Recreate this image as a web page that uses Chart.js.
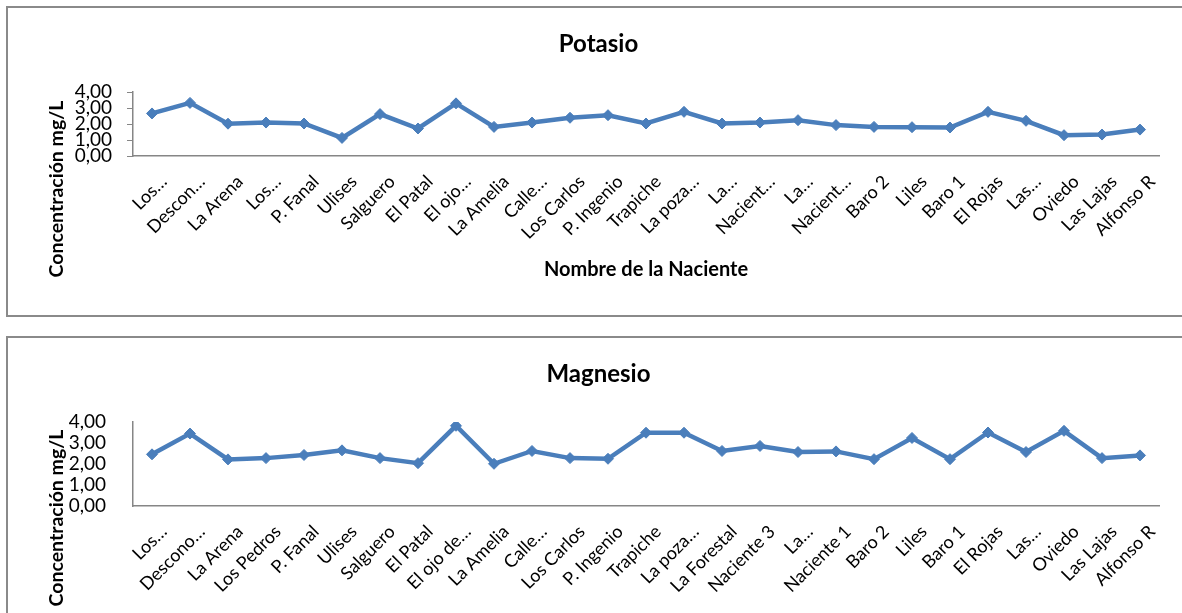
<!DOCTYPE html>
<html lang="es">
<head>
<meta charset="utf-8">
<title>Potasio y Magnesio por naciente</title>
<script src="https://cdn.jsdelivr.net/npm/chart.js@4.4.1/dist/chart.umd.min.js"></script>
<style>
  html, body { margin: 0; padding: 0; background: #ffffff; }
  body { width: 1182px; height: 613px; overflow: hidden; position: relative; }
  .panel {
    position: absolute; left: 6px; width: 1300px; height: 311px;
    border: 2px solid #8a8a8a; box-sizing: border-box; background: #fff;
  }
  #panelK { top: 6px; }
  #panelMg { top: 336px; }
  canvas { position: absolute; left: 0; top: 0; }
</style>
</head>
<body>
<div class="panel" id="panelK"><canvas id="chartK" width="1174" height="307"></canvas></div>
<div class="panel" id="panelMg"><canvas id="chartMg" width="1174" height="307"></canvas></div>
<script>
// Nacientes (labels as shown on each axis)
const categoriasK = ['Los…', 'Descon…', 'La Arena', 'Los…', 'P. Fanal', 'Ulises', 'Salguero', 'El Patal',
  'El ojo…', 'La Amelia', 'Calle…', 'Los Carlos', 'P. Ingenio', 'Trapiche', 'La poza…', 'La…',
  'Nacient…', 'La…', 'Nacient…', 'Baro 2', 'Liles', 'Baro 1', 'El Rojas', 'Las…', 'Oviedo',
  'Las Lajas', 'Alfonso R'];
const categoriasMg = ['Los…', 'Descono…', 'La Arena', 'Los Pedros', 'P. Fanal', 'Ulises', 'Salguero', 'El Patal',
  'El ojo de…', 'La Amelia', 'Calle…', 'Los Carlos', 'P. Ingenio', 'Trapiche', 'La poza…', 'La Forestal',
  'Naciente 3', 'La…', 'Naciente 1', 'Baro 2', 'Liles', 'Baro 1', 'El Rojas', 'Las…', 'Oviedo',
  'Las Lajas', 'Alfonso R'];

// Concentraciones (mg/L)
const potasio = [2.66, 3.32, 2.02, 2.09, 2.03, 1.13, 2.62, 1.72, 3.29, 1.82, 2.09, 2.39, 2.55, 2.03,
  2.76, 2.03, 2.09, 2.24, 1.93, 1.82, 1.80, 1.78, 2.76, 2.20, 1.30, 1.34, 1.65];
const magnesio = [2.46, 3.45, 2.22, 2.28, 2.43, 2.65, 2.28, 2.04, 3.82, 2.01, 2.62, 2.28, 2.25, 3.49,
  3.49, 2.62, 2.86, 2.57, 2.60, 2.23, 3.24, 2.23, 3.50, 2.57, 3.58, 2.28, 2.41];

// Eje Y
const yTicks = [0, 1, 2, 3, 4];
const yTitle = 'Concentración mg/L';
const xTitle = 'Nombre de la Naciente';

const FONT = 'Lato, "Open Sans", "Noto Sans", sans-serif';
const BLUE = '#4A7EBB';
const AXIS = '#868686';

// Vertical axis title, centred on the plot block rather than on the chart area
const yTitlePlugin = {
  id: 'yTitle',
  afterDraw(chart, args, opts) {
    const ctx = chart.ctx;
    ctx.save();
    ctx.translate(opts.x, opts.y);
    ctx.rotate(-Math.PI / 2);
    ctx.font = 'bold 19.5px ' + FONT;
    ctx.fillStyle = '#000';
    ctx.textAlign = 'center';
    ctx.textBaseline = 'middle';
    ctx.fillText(opts.text, 0, 0);
    ctx.restore();
  }
};

function fmt(v) { return v.toFixed(2).replace('.', ','); }

function makeChart(id, title, labels, values, cfg) {
  return new Chart(document.getElementById(id), {
    type: 'line',
    data: {
      labels: labels,
      datasets: [{
        data: values,
        borderColor: BLUE,
        backgroundColor: BLUE,
        borderWidth: 4.5,
        tension: 0,
        pointStyle: 'rectRot',
        pointRadius: 5.5,
        pointBorderWidth: 1,
        pointBackgroundColor: BLUE,
        pointBorderColor: BLUE
      }]
    },
    options: {
      responsive: false,
      devicePixelRatio: 1,
      animation: false,
      events: [],
      layout: { padding: { left: 30, right: 23, top: 0, bottom: 0 } },
      plugins: {
        legend: { display: false },
        tooltip: { enabled: false },
        title: {
          display: true,
          text: title,
          color: '#000',
          font: { family: FONT, size: 24, weight: 'bold', lineHeight: 1.2 },
          padding: { top: 21.6, bottom: 33.6 }
        },
        yTitle: { text: yTitle, x: 49, y: cfg.yTitleY }
      },
      scales: {
        x: {
          type: 'category',
          offset: true,
          grid: { display: false },
          border: { display: true, color: AXIS, width: 1.5 },
          ticks: {
            autoSkip: false,
            maxRotation: 45,
            minRotation: 45,
            padding: 7,
            labelOffset: 12,
            color: '#000',
            font: { family: FONT, size: 18 }
          },
          title: cfg.showX ? {
            display: true,
            text: xTitle,
            color: '#000',
            font: { family: FONT, size: 20, weight: 'bold', lineHeight: 1.2 },
            padding: { top: 0, bottom: cfg.xTitlePad }
          } : { display: false },
          afterFit(s) { s.height = cfg.xHeight; }
        },
        y: {
          min: 0,
          max: 4,
          afterBuildTicks(s) { s.ticks = yTicks.map(v => ({ value: v })); },
          grid: {
            display: cfg.yTickMarks,
            drawOnChartArea: false,
            drawTicks: true,
            tickLength: 6,
            color: AXIS
          },
          border: { display: true, color: AXIS, width: 1.5 },
          ticks: {
            autoSkip: false,
            padding: cfg.yTickMarks ? 15 : 21,
            color: '#000',
            font: { family: FONT, size: 19 },
            callback: v => fmt(v)
          },
          afterFit(s) { s.width = 95; }
        }
      }
    },
    plugins: [yTitlePlugin]
  });
}

makeChart('chartK', 'Potasio', categoriasK, potasio,
  { xHeight: 159, showX: true, xTitlePad: 33, yTickMarks: true, yTitleY: 181 });
makeChart('chartMg', 'Magnesio', categoriasMg, magnesio,
  { xHeight: 139, showX: false, xTitlePad: 0, yTickMarks: false, yTitleY: 180 });
</script>
</body>
</html>
